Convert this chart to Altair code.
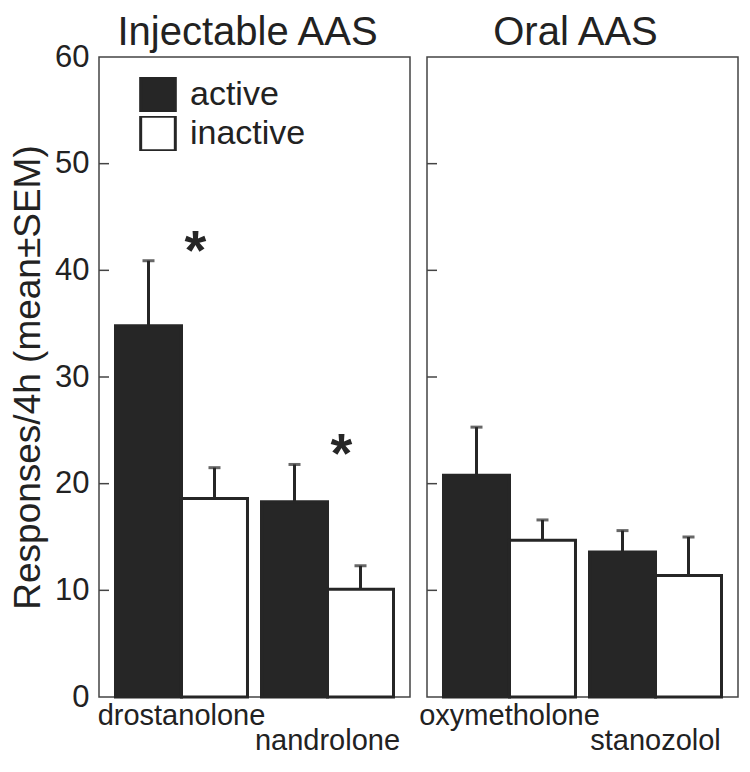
import altair as alt
import pandas as pd

# ---- data ----
panel_titles = ["Injectable AAS", "Oral AAS"]
panels = ["Injectable AAS", "Injectable AAS", "Oral AAS", "Oral AAS"]
drugs = ["drostanolone", "nandrolone", "oxymetholone", "stanozolol"]
active_mean = [34.8, 18.3, 20.8, 13.6]
active_sem = [6.1, 3.5, 4.5, 2.0]
inactive_mean = [18.6, 10.1, 14.7, 11.4]
inactive_sem = [2.9, 2.2, 1.9, 3.6]
significant = [True, True, False, False]
label_row = [0, 1, 0, 1]
types = ["active", "inactive"]
tick_values = [10, 20, 30, 40, 50]

rows = []
for i, d in enumerate(drugs):
    rows.append(dict(panel=panels[i], drug=d, type="active", mean=active_mean[i],
                     top=active_mean[i] + active_sem[i]))
    rows.append(dict(panel=panels[i], drug=d, type="inactive", mean=inactive_mean[i],
                     top=inactive_mean[i] + inactive_sem[i]))
df = pd.DataFrame(rows)
lab = pd.DataFrame(dict(panel=panels, drug=drugs, row=label_row, sig=significant,
                        star_y=[a + s for a, s in zip(active_mean, active_sem)]))
ticks = pd.DataFrame(dict(v=tick_values))

FONT = "Liberation Sans"
DARK = "#262626"
W, H = 311, 640

yscale = alt.Scale(domain=[0, 60], nice=False, zero=True)
color_scale = alt.Scale(domain=types, range=[DARK, "white"])


def panel(name, first):
    d = df[df.panel == name]
    l = lab[lab.panel == name]
    order = list(l.drug)
    xs = alt.X("drug:N", sort=order, scale=alt.Scale(paddingInner=0.096, paddingOuter=0.113),
               axis=None)
    xo = alt.XOffset("type:N", sort=types, scale=alt.Scale(paddingInner=0, paddingOuter=0))
    if first:
        yaxis = alt.Axis(values=[0, 10, 20, 30, 40, 50, 60], tickSize=0, domain=False,
                         labelFontSize=31, labelFont=FONT, labelColor="#222",
                         labelPadding=10, title="Responses/4h (mean±SEM)",
                         titleFontSize=37, titleFont=FONT, titleFontWeight="normal",
                         titleColor="#222", titlePadding=7, grid=False)
    else:
        yaxis = None
    base = alt.Chart(d)
    bars = base.mark_bar(stroke=DARK, strokeWidth=3).encode(
        x=xs, xOffset=xo,
        y=alt.Y("mean:Q", scale=yscale, axis=yaxis),
        fill=alt.Fill("type:N", scale=color_scale,
                      legend=alt.Legend(orient="none", legendX=40, legendY=20, title=None,
                                        symbolType="square", symbolSize=1200,
                                        symbolStrokeColor=DARK, symbolStrokeWidth=3,
                                        labelFontSize=34, labelFont=FONT, labelColor="#222",
                                        labelOffset=13, rowPadding=4, clipHeight=35)),
    )
    err = base.mark_rule(color=DARK, strokeWidth=3).encode(
        x=xs, xOffset=xo, y=alt.Y("top:Q"), y2="mean:Q")
    cap = base.mark_tick(color=DARK, thickness=3, size=12).encode(
        x=xs, xOffset=xo, y=alt.Y("top:Q"))
    tk = alt.Chart(ticks).mark_rule(color="#444", strokeWidth=1.5).encode(
        y=alt.Y("v:Q"), x=alt.value(0), x2=alt.value(10))
    lb = alt.Chart(l)
    t0 = lb.transform_filter("datum.row == 0").mark_text(
        fontSize=29, font=FONT, color="#222", baseline="alphabetic").encode(
        x=xs, text="drug:N", y=alt.value(H + 28))
    t1 = lb.transform_filter("datum.row == 1").mark_text(
        fontSize=29, font=FONT, color="#222", baseline="alphabetic").encode(
        x=xs, text="drug:N", y=alt.value(H + 53))
    star = lb.transform_filter("datum.sig").mark_text(
        text="*", fontSize=56, fontWeight="bold", font=FONT, color=DARK,
        baseline="middle", dx=14, dy=-9).encode(
        x=xs, y=alt.Y("star_y:Q"))
    ttl = alt.Chart(pd.DataFrame(dict(t=[name]))).mark_text(
        fontSize=40, font=FONT, color="#222", baseline="top", align="center").encode(
        text="t:N", x=alt.value(W / 2 - 7), y=alt.value(-44))
    return alt.layer(bars, err, cap, tk, t0, t1, star, ttl).properties(width=W, height=H)


chart = alt.hconcat(panel(panel_titles[0], True), panel(panel_titles[1], False), spacing=7
                    ).configure_view(stroke="#444", strokeWidth=1.5
                    ).properties(padding={"left": 0, "top": 4, "right": 0, "bottom": 0},
                                 background="white")

chart.save("out.html", embed_options={"renderer": "svg", "actions": False})
